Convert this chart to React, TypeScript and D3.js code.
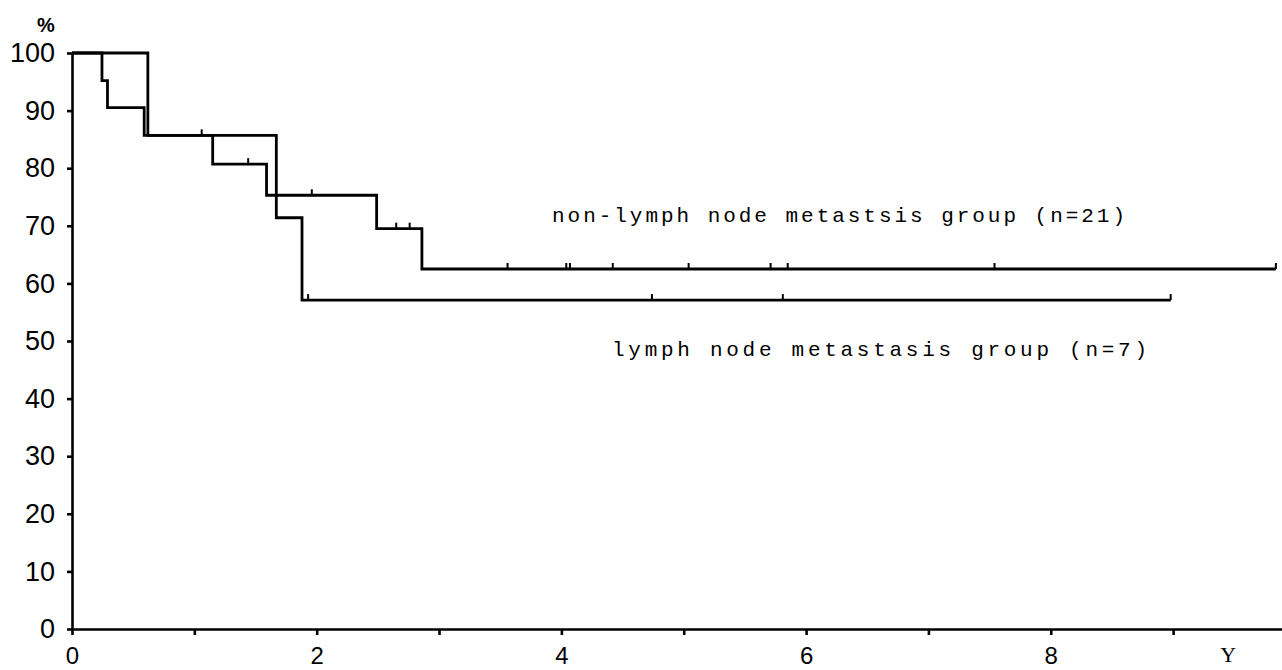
import * as d3 from 'd3'
import { useRef, useEffect } from 'react'

// Kaplan-Meier steps (years, % surviving)
const nonLymphTimes = [0, 0.245, 0.29, 0.59, 1.15, 1.59, 2.49, 2.86]
const nonLymphSurv = [100, 95.2, 90.5, 85.7, 80.7, 75.3, 69.5, 62.5]
const nonLymphCensored = [1.06, 1.44, 1.96, 2.65, 2.76, 3.56, 4.04, 4.07, 4.42, 5.04, 5.71, 5.85, 7.54, 9.84]
const nonLymphEnd = 9.84

const lymphTimes = [0, 0.62, 1.67, 1.88]
const lymphSurv = [100, 85.7, 71.4, 57.1]
const lymphCensored = [1.93, 4.74, 5.81, 8.98]
const lymphEnd = 8.98

const yTicks = [0, 10, 20, 30, 40, 50, 60, 70, 80, 90, 100]
const xTicks = [0, 1, 2, 3, 4, 5, 6, 7, 8, 9]

const labels = {
    nonLymph: 'non-lymph node metastsis group (n=21)',
    lymph: 'lymph node metastasis group (n=7)',
}

const App = () => {
    const width = 1282
    const height = 670
    const svgRef = useRef<SVGSVGElement | null>(null)

    const x = d3.scaleLinear().domain([0, 9.89]).range([72, 1282])
    const y = d3.scaleLinear().domain([0, 100]).range([629, 53])

    useEffect(() => {
        const svg = d3.select(svgRef.current)
        svg.selectAll('*').remove()

        // axes
        const yAxis = svg.append('g')
            .attr('transform', `translate(${x(0)},0)`)
            .call(d3.axisLeft(y).tickValues(yTicks).tickSize(5).tickSizeOuter(0).tickPadding(12))
        yAxis.selectAll('path, line').attr('stroke', '#000').attr('stroke-width', 2.6)
        yAxis.selectAll('text')
            .attr('fill', '#000')
            .style('font-family', '"Liberation Sans", Arial, sans-serif')
            .style('font-size', '27px')

        const xAxis = svg.append('g')
            .attr('transform', `translate(0,${y(0)})`)
            .call(d3.axisBottom(x).tickValues(xTicks)
                .tickFormat(d => (+d % 2 === 0 ? String(d) : ''))
                .tickSize(6).tickSizeOuter(0).tickPadding(12))
        xAxis.selectAll('path, line').attr('stroke', '#000').attr('stroke-width', 2.6)
        xAxis.selectAll('text')
            .attr('fill', '#000')
            .style('font-family', '"Liberation Sans", Arial, sans-serif')
            .style('font-size', '24px')

        svg.append('text')
            .attr('x', 46).attr('y', 32)
            .attr('text-anchor', 'middle')
            .style('font-family', '"Liberation Sans", Arial, sans-serif')
            .style('font-size', '20px')
            .style('font-weight', 'bold')
            .text('%')

        svg.append('text')
            .attr('x', x(9.45)).attr('y', 662)
            .attr('text-anchor', 'middle')
            .style('font-family', '"Liberation Serif", serif')
            .style('font-size', '22px')
            .text('Y')

        // curves
        const line = d3.line<[number, number]>()
            .x(d => x(d[0]))
            .y(d => y(d[1]))
            .curve(d3.curveStepAfter)

        const series = [
            { times: nonLymphTimes, surv: nonLymphSurv, end: nonLymphEnd, censored: nonLymphCensored },
            { times: lymphTimes, surv: lymphSurv, end: lymphEnd, censored: lymphCensored },
        ]

        series.forEach(s => {
            const pts: [number, number][] = s.times.map((t, i) => [t, s.surv[i]])
            pts.push([s.end, s.surv[s.surv.length - 1]])
            svg.append('path')
                .attr('d', line(pts))
                .attr('fill', 'none')
                .attr('stroke', '#000')
                .attr('stroke-width', 2.8)

            const survAt = (t: number) => {
                let v = s.surv[0]
                s.times.forEach((tt, i) => { if (tt <= t) v = s.surv[i] })
                return v
            }
            svg.append('g')
                .selectAll('line')
                .data(s.censored)
                .enter()
                .append('line')
                .attr('x1', d => x(d)).attr('x2', d => x(d))
                .attr('y1', d => y(survAt(d)))
                .attr('y2', d => y(survAt(d)) - 6)
                .attr('stroke', '#000')
                .attr('stroke-width', 2)
        })

        // group labels
        svg.append('text')
            .attr('x', 552).attr('y', 222)
            .attr('textLength', 573)
            .attr('lengthAdjust', 'spacing')
            .style('font-family', '"Liberation Mono", monospace')
            .style('font-size', '21px')
            .text(labels.nonLymph)

        svg.append('text')
            .attr('x', 612).attr('y', 356)
            .attr('textLength', 535)
            .attr('lengthAdjust', 'spacing')
            .style('font-family', '"Liberation Mono", monospace')
            .style('font-size', '21px')
            .text(labels.lymph)
    }, [])

    return (
        <svg
            ref={svgRef}
            width={width}
            height={height}
            style={{ position: 'absolute', left: 0, top: 0, background: '#fff' }}
        />
    )
}

export default App
